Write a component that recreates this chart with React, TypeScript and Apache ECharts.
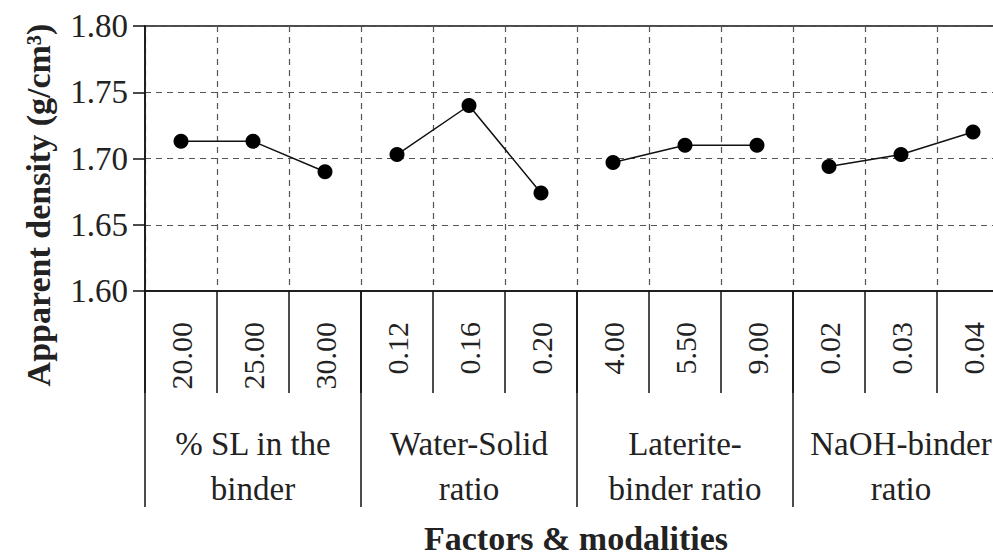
import React, { useEffect, useRef } from "react";
import * as echarts from "echarts";

const modalities = ["20.00", "25.00", "30.00", "0.12", "0.16", "0.20", "4.00", "5.50", "9.00", "0.02", "0.03", "0.04"];
const factors = ["% SL in the\nbinder", "Water-Solid\nratio", "Laterite-\nbinder ratio", "NaOH-binder\nratio"];
const slValues = [1.713, 1.713, 1.690];
const wsValues = [1.703, 1.740, 1.674];
const lbValues = [1.697, 1.710, 1.710];
const nbValues = [1.694, 1.703, 1.720];
const yTicks = [1.6, 1.65, 1.7, 1.75, 1.8];
const yTitle = "Apparent density (g/cm³)";
const xTitle = "Factors & modalities";

const groups = [slValues, wsValues, lbValues, nbValues];
const FONT = "'Liberation Serif', 'Times New Roman', serif";

export default function App() {
  const ref = useRef<HTMLDivElement>(null);
  useEffect(() => {
    if (!ref.current) return;
    const chart = echarts.init(ref.current, null, { renderer: "svg" });
    const series = groups.map((vals, g) => {
      const data: (number | null)[] = modalities.map(() => null);
      vals.forEach((v, i) => (data[g * 3 + i] = v));
      return {
        type: "line",
        xAxisIndex: 0,
        yAxisIndex: 0,
        data,
        symbol: "circle",
        symbolSize: 15,
        connectNulls: false,
        itemStyle: { color: "#000" },
        lineStyle: { color: "#111", width: 1.5 },
        z: 5,
      };
    });
    chart.setOption({
      animation: false,
      backgroundColor: "#fff",
      grid: {
        left: 145,
        top: 26,
        width: 864,
        height: 265,
        show: true,
        borderColor: "#111",
        borderWidth: 1.5,
        outerBoundsMode: "none",
      },
      xAxis: [
        {
          type: "category",
          data: modalities,
          boundaryGap: true,
          position: "bottom",
          axisLine: { show: true, lineStyle: { color: "#111", width: 1.5 } },
          axisTick: { show: true, interval: 0, length: 102, inside: false, lineStyle: { color: "#111", width: 1.5 } },
          axisLabel: {
            interval: 0,
            rotate: 90,
            margin: 31,
            fontFamily: FONT,
            fontSize: 30,
            color: "#222",
          },
          splitLine: { show: true, interval: 0, lineStyle: { color: "#555", width: 1.2, type: [6, 5] } },
        },
        {
          type: "category",
          data: factors,
          boundaryGap: true,
          position: "bottom",
          axisLine: { show: false },
          axisTick: { show: true, interval: 0, length: 216, lineStyle: { color: "#111", width: 1.5 } },
          axisLabel: {
            interval: 0,
            margin: 130,
            fontFamily: FONT,
            fontSize: 33,
            lineHeight: 45,
            color: "#222",
            align: "center",
          },
          splitLine: { show: false },
        },
      ],
      yAxis: {
        type: "value",
        min: 1.6,
        max: 1.8,
        interval: 0.05,
        axisLine: { show: true, lineStyle: { color: "#111", width: 1.5 } },
        axisTick: { show: true, length: 12, lineStyle: { color: "#111", width: 1.5 } },
        axisLabel: {
          margin: 17,
          fontFamily: FONT,
          fontSize: 33,
          color: "#222",
          formatter: (v: number) => {
            const t = yTicks.find((y) => Math.abs(y - v) < 1e-6);
            return t !== undefined ? t.toFixed(2) : "";
          },
        },
        splitLine: { show: true, lineStyle: { color: "#555", width: 1.2, type: [6, 5] } },
      },
      graphic: [
        {
          type: "text",
          x: 38,
          y: 205,
          rotation: Math.PI / 2,
          style: {
            text: yTitle,
            fontFamily: FONT,
            fontSize: 34,
            fontWeight: "bold",
            fill: "#222",
            textAlign: "center",
            textVerticalAlign: "middle",
          },
        },
        {
          type: "text",
          x: 576,
          y: 538,
          style: {
            text: xTitle,
            fontFamily: FONT,
            fontSize: 34,
            fontWeight: "bold",
            fill: "#222",
            textAlign: "center",
            textVerticalAlign: "middle",
          },
        },
      ],
      series,
    });
    return () => chart.dispose();
  }, []);
  return (
    <div
      ref={ref}
      style={{ position: "fixed", left: 0, top: 0, width: 993, height: 558, background: "#fff" }}
    />
  );
}
